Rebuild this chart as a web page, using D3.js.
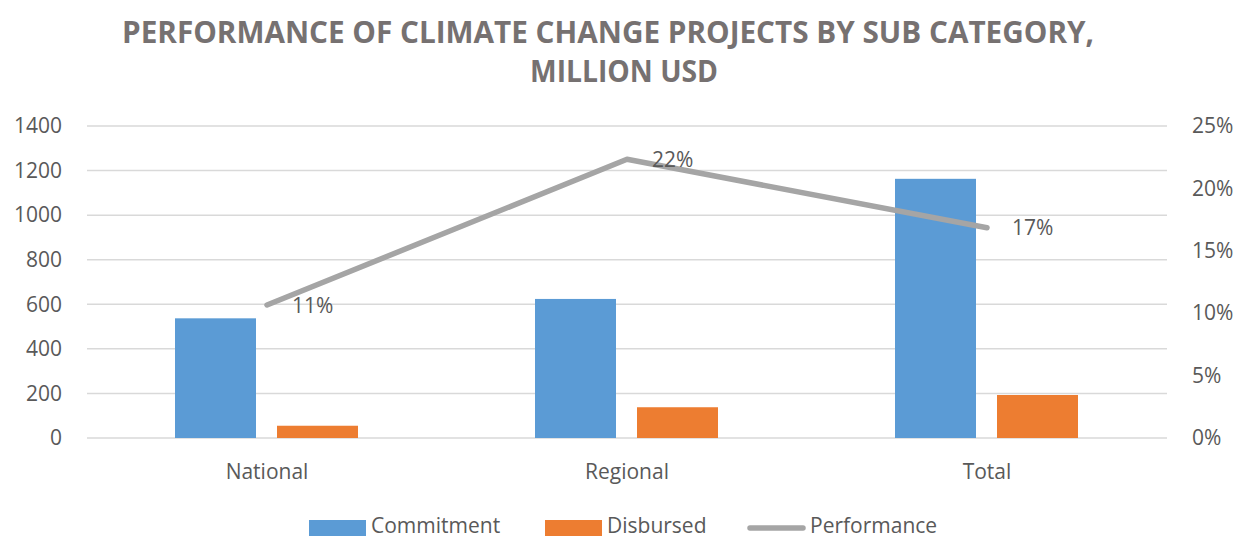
<!DOCTYPE html>
<html>
<head>
<meta charset="utf-8">
<script src="https://cdnjs.cloudflare.com/ajax/libs/d3/7.8.5/d3.min.js"></script>
<style>
  body { margin: 0; background: #fff; }
  text { font-family: "Open Sans", sans-serif; }
</style>
</head>
<body>
<div id="chart"></div>
<script>
const categories = ["National", "Regional", "Total"]
const commitment = [537, 624, 1163]
const disbursed = [55, 138, 193]
const performance = [0.1066, 0.2233, 0.1685]
const leftTicks = [0, 200, 400, 600, 800, 1000, 1200, 1400]
const rightTicks = [0, 0.05, 0.10, 0.15, 0.20, 0.25]

const W = 1249, H = 539
const m = { left: 87, right: 82, top: 126, bottom: 101 }
const iw = W - m.left - m.right, ih = H - m.top - m.bottom

const svg = d3.select("#chart").append("svg")
  .attr("width", W).attr("height", H)

const x = d3.scaleBand().domain(categories).range([m.left, m.left + iw])
const y = d3.scaleLinear().domain([0, 1400]).range([m.top + ih, m.top])
const y2 = d3.scaleLinear().domain([0, 0.25]).range([m.top + ih, m.top])

// title: tall condensed bold, squeeze Open Sans to the original width
const title = svg.append("g").attr("fill", "#767171").attr("font-weight", "bold")
  .attr("text-anchor", "middle")
title.append("text").attr("x", 608).attr("y", 43).attr("font-size", 30)
  .attr("textLength", 972).attr("lengthAdjust", "spacingAndGlyphs")
  .text("PERFORMANCE OF CLIMATE CHANGE PROJECTS BY SUB CATEGORY,")
title.append("text").attr("x", 624).attr("y", 82).attr("font-size", 30)
  .attr("textLength", 188).attr("lengthAdjust", "spacingAndGlyphs")
  .text("MILLION USD")

// gridlines
svg.append("g").selectAll("line").data(leftTicks).join("line")
  .attr("x1", m.left).attr("x2", m.left + iw)
  .attr("y1", d => y(d)).attr("y2", d => y(d))
  .attr("stroke", "#d9d9d9").attr("stroke-width", 1.5)

// left axis
svg.append("g").attr("transform", `translate(${m.left - 25},0)`)
  .call(d3.axisLeft(y).tickValues(leftTicks).tickSize(0).tickPadding(0).tickFormat(d3.format("d")))
  .call(g => g.select(".domain").remove())
  .selectAll("text").attr("font-size", 21).attr("fill", "#595959")
  .attr("font-family", "Open Sans")

// right axis
svg.append("g").attr("transform", `translate(${m.left + iw + 25},0)`)
  .call(d3.axisRight(y2).tickValues(rightTicks).tickSize(0).tickPadding(0).tickFormat(d3.format(".0%")))
  .call(g => g.select(".domain").remove())
  .selectAll("text").attr("font-size", 21).attr("fill", "#595959")
  .attr("font-family", "Open Sans")

// category axis
svg.append("g").attr("transform", `translate(0,${m.top + ih + 26})`)
  .call(d3.axisBottom(x).tickSize(0).tickPadding(0))
  .call(g => g.select(".domain").remove())
  .selectAll("text").attr("font-size", 21).attr("fill", "#595959")
  .attr("font-family", "Open Sans")

const bw = 81
const cx = d => x(d) + x.bandwidth() / 2

svg.append("g").selectAll("rect").data(categories).join("rect")
  .attr("x", d => cx(d) - 92).attr("width", bw)
  .attr("y", (d, i) => y(commitment[i])).attr("height", (d, i) => y(0) - y(commitment[i]))
  .attr("fill", "#5b9bd5")

svg.append("g").selectAll("rect").data(categories).join("rect")
  .attr("x", d => cx(d) + 10).attr("width", bw)
  .attr("y", (d, i) => y(disbursed[i])).attr("height", (d, i) => y(0) - y(disbursed[i]))
  .attr("fill", "#ed7d31")

// performance line
const line = d3.line().x((d, i) => cx(categories[i])).y(d => y2(d))
svg.append("path").datum(performance).attr("d", line)
  .attr("fill", "none").attr("stroke", "#a5a5a5").attr("stroke-width", 5.5)
  .attr("stroke-linecap", "round").attr("stroke-linejoin", "round")

svg.append("g").selectAll("text").data(performance).join("text")
  .attr("x", (d, i) => cx(categories[i]) + 25).attr("y", d => y2(d))
  .attr("dy", "0.36em").attr("font-size", 21).attr("fill", "#595959")
  .text(d => d3.format(".0%")(d))

// legend
const legend = [
  { name: "Commitment", color: "#5b9bd5", type: "rect", x: 309, tx: 371 },
  { name: "Disbursed", color: "#ed7d31", type: "rect", x: 545, tx: 607 },
  { name: "Performance", color: "#a5a5a5", type: "line", x: 748, tx: 810 }
]
const lg = svg.append("g")
legend.forEach(l => {
  if (l.type === "rect") {
    lg.append("rect").attr("x", l.x).attr("y", 520).attr("width", 57).attr("height", 16).attr("fill", l.color)
  } else {
    lg.append("line").attr("x1", l.x + 2).attr("x2", l.x + 55).attr("y1", 528).attr("y2", 528)
      .attr("stroke", l.color).attr("stroke-width", 5.5).attr("stroke-linecap", "round")
  }
  lg.append("text").attr("x", l.tx).attr("y", 533)
    .attr("font-size", 21).attr("fill", "#595959").text(l.name)
})
</script>
</body>
</html>
